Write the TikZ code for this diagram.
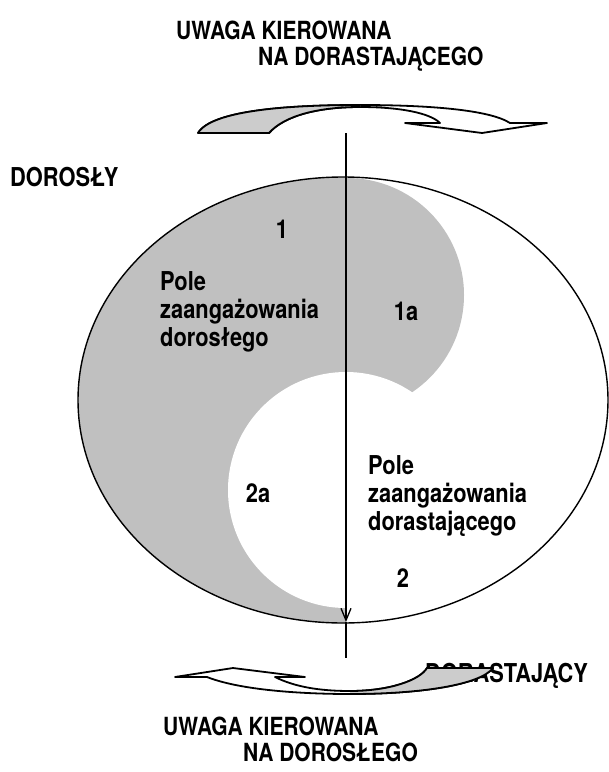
\documentclass[tikz,border=0pt]{standalone}
\usepackage{fontspec}
\usepackage{graphicx}
\setmainfont{TeX Gyre Heros}
\usetikzlibrary{arrows.meta}
\definecolor{fieldgray}{RGB}{192,192,192}
\definecolor{tailgray}{RGB}{204,204,204}
\newcommand{\narrowtxt}[1]{\scalebox{0.84}[1]{#1}}
\newcommand{\narrowpar}[1]{\scalebox{0.84}[1]{\begin{tabular}{@{}l@{}}#1\end{tabular}}}
\begin{document}
\begin{tikzpicture}[x=1pt,y=-1pt,
  lbl/.style={font=\fontsize{26}{28}\selectfont\bfseries, inner sep=0pt, anchor=base west},
  ttl/.style={font=\fontsize{25}{28}\selectfont\bfseries, inner sep=0pt, anchor=base west},
  body/.style={font=\fontsize{26}{28}\selectfont\bfseries, inner sep=0pt, anchor=north west},
  num/.style={font=\fontsize{26}{28}\selectfont\bfseries, inner sep=0pt},
  bentarrow/.style={draw=black, line width=1.8pt, line join=round, fill=white},
  tailfill/.style={fill=tailgray}]
\useasboundingbox (0,0) rectangle (609,772);
\fill[white] (0,0) rectangle (609,772);

% gray field (yin-yang like)
\begin{scope}
  \clip (343,400) ellipse[x radius=265pt, y radius=223pt];
  \fill[fieldgray] (0,0) rectangle (346,772);
\end{scope}
\begin{scope}
  \clip (346,0) rectangle (609,772);
  \fill[fieldgray] (347,295) circle[radius=117pt];
\end{scope}
\fill[white] (346,490) circle[radius=118pt];
\draw[line width=1.4pt] (343,400) ellipse[x radius=265pt, y radius=223pt];

% texts
\node[ttl] (t1) at (176,39) {\narrowtxt{UWAGA KIEROWANA}};
\node[ttl] (t2) at (258,65) {\narrowtxt{NA DORASTAJĄCEGO}};
\node[lbl] (dor) at (10,186) {\narrowtxt{DOROSŁY}};
\node[num] (n1) at (282,229) {\narrowtxt{1}};
\node[body] (p1) at (160,271) {\narrowpar{Pole\\zaangażowania\\dorosłego}};
\node[num] (n1a) at (406,311) {\narrowtxt{1a}};
\node[num] (n2a) at (258,493) {\narrowtxt{2a}};
\node[body] (p2) at (368,455) {\narrowpar{Pole\\zaangażowania\\dorastającego}};
\node[num] (n2) at (403,578) {\narrowtxt{2}};
\node[lbl] (dst) at (425,682) {\narrowtxt{DORASTAJĄCY}};
\node[ttl] (b1) at (163,735) {\narrowtxt{UWAGA KIEROWANA}};
\node[ttl] (b2) at (243,761) {\narrowtxt{NA DOROSŁEGO}};

% top curved arrow
\draw[bentarrow] (198,133) .. controls (212,110) and (290,105) .. (360,105)
  .. controls (430,105) and (490,110) .. (510,123) -- (547,123) -- (482,133)
  -- (405,123) -- (440,123) .. controls (430,113) and (400,107) .. (360,107)
  .. controls (320,107) and (285,115) .. (269,133) -- cycle;
\fill[tailfill] (198,133) .. controls (212,110) and (290,105) .. (360,105)
  -- (360,107) .. controls (320,107) and (285,115) .. (269,133) -- cycle;
\draw[line width=1.8pt, line join=round] (198,133) .. controls (212,110) and (290,105) .. (360,105)
  (360,107) .. controls (320,107) and (285,115) .. (269,133) -- (198,133);

% bottom curved arrow
\draw[bentarrow] (207,677) .. controls (240,690) and (300,694) .. (350,694)
  .. controls (420,694) and (480,685) .. (493,668) -- (427,668)
  .. controls (420,680) and (390,691) .. (350,691)
  .. controls (320,691) and (295,687) .. (275,677) -- (305,677) -- (233,668)
  -- (175,677) -- cycle;
\fill[tailfill] (350,694) .. controls (420,694) and (480,685) .. (493,668) -- (427,668)
  .. controls (420,680) and (390,691) .. (350,691) -- cycle;
\draw[line width=1.8pt, line join=round] (350,694) .. controls (420,694) and (480,685) .. (493,668) -- (427,668)
  .. controls (420,680) and (390,691) .. (350,691);

% vertical arrow
\coordinate (vtop) at (346,133);
\coordinate (vtip) at (346,622);
\coordinate (vbot) at (346,658);
\draw[line width=1.3pt, -{Straight Barb[length=12pt,width=10pt]}] (vtop) -- (vtip);
\draw[line width=1.3pt] (vtip) -- (vbot);
\end{tikzpicture}
\end{document}
